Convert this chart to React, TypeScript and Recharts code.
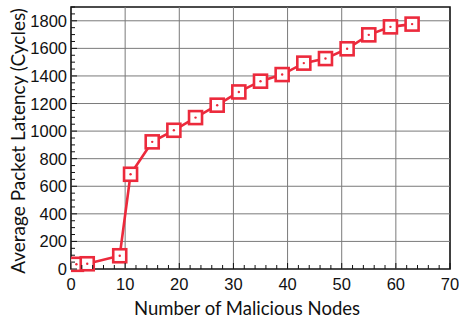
import React from 'react';
import {
  LineChart,
  Line,
  XAxis,
  YAxis,
  ReferenceLine,
  ReferenceArea,
} from 'recharts';

const nodes = [1, 3, 9, 11, 15, 19, 23, 27, 31, 35, 39, 43, 47, 51, 55, 59, 63];
const latency = [34, 38, 96, 687, 922, 1006, 1098, 1188, 1284, 1362, 1410, 1493, 1526, 1597, 1698, 1756, 1776];

const xMajor = [0, 10, 20, 30, 40, 50, 60, 70];
const xMinor = Array.from({ length: 36 }, (_, i) => i * 2);
const yMajor = [0, 200, 400, 600, 800, 1000, 1200, 1400, 1600, 1800];
const yMinor = Array.from({ length: 39 }, (_, i) => i * 50);

const RED = '#ec2a3c';
const GRID = '#7a7a7a';
const FONT = 'Liberation Sans, Arial, sans-serif';
const LABEL_FONT = 'Lato, sans-serif';

const data = nodes.map((n, i) => ({ n, latency: latency[i] }));

const XTick = (props: any) => {
  const { x, y, payload } = props;
  const major = payload.value % 10 === 0;
  return (
    <g>
      <line x1={x} x2={x} y1={y} y2={y - (major ? 6 : 4)} stroke="#111" strokeWidth={1} />
      {major && (
        <text x={x} y={y + 21} textAnchor="middle" fontSize={16.5} fontFamily={FONT} fill="#111">
          {payload.value}
        </text>
      )}
    </g>
  );
};

const YTick = (props: any) => {
  const { x, y, payload } = props;
  const major = payload.value % 200 === 0;
  return (
    <g>
      <line x1={x} x2={x + (major ? 6 : 4)} y1={y} y2={y} stroke="#111" strokeWidth={1} />
      {major && (
        <text x={x - 4} y={y + 6} textAnchor="end" fontSize={16.5} fontFamily={FONT} fill="#111">
          {payload.value}
        </text>
      )}
    </g>
  );
};

const SquareDot = (props: any) => {
  const { cx, cy, index } = props;
  if (cx == null || cy == null) return null;
  return (
    <g key={index}>
      <rect x={cx - 6.5} y={cy - 6.5} width={13} height={13} fill="#fff" stroke={RED} strokeWidth={2.6} />
      <circle cx={cx} cy={cy} r={1.2} fill={RED} />
    </g>
  );
};

const XLabel = () => (
  <text x={247} y={315} textAnchor="middle" fontSize={18.5} fontFamily={LABEL_FONT} fill="#111">
    Number of Malicious Nodes
  </text>
);

const YLabel = () => (
  <text
    x={0}
    y={0}
    transform="translate(25,141) rotate(-90)"
    textAnchor="middle"
    fontSize={19}
    fontFamily={LABEL_FONT}
    fill="#111"
  >
    Average Packet Latency (Cycles)
  </text>
);

export default function App() {
  return (
    <div style={{ position: 'absolute', left: 0, top: 0, width: 459, height: 320, background: '#fff' }}>
      <LineChart width={459} height={320} data={data} margin={{ top: 7, right: 9, left: 0, bottom: 0 }}>
        <XAxis
          dataKey="n"
          type="number"
          domain={[0, 70]}
          ticks={xMinor}
          interval={0}
          allowDataOverflow
          height={51}
          tickSize={0}
          tickMargin={0}
          tickLine={false}
          axisLine={false}
          tick={<XTick />}
          label={<XLabel />}
        />
        <YAxis
          type="number"
          domain={[0, 1900]}
          ticks={yMinor}
          interval={0}
          width={71}
          tickSize={0}
          tickMargin={0}
          tickLine={false}
          axisLine={false}
          tick={<YTick />}
          label={<YLabel />}
        />
        {xMajor.slice(1, -1).map((v) => (
          <ReferenceLine key={'x' + v} x={v} stroke={GRID} strokeWidth={1} />
        ))}
        {yMajor.slice(1).map((v) => (
          <ReferenceLine key={'y' + v} y={v} stroke={GRID} strokeWidth={1} />
        ))}
        <ReferenceArea x1={0} x2={70} y1={0} y2={1900} fill="none" stroke="#111" strokeWidth={1.6} />
        <Line
          dataKey="latency"
          type="linear"
          stroke={RED}
          strokeWidth={2.6}
          dot={<SquareDot />}
          activeDot={false}
          isAnimationActive={false}
        />
      </LineChart>
    </div>
  );
}
